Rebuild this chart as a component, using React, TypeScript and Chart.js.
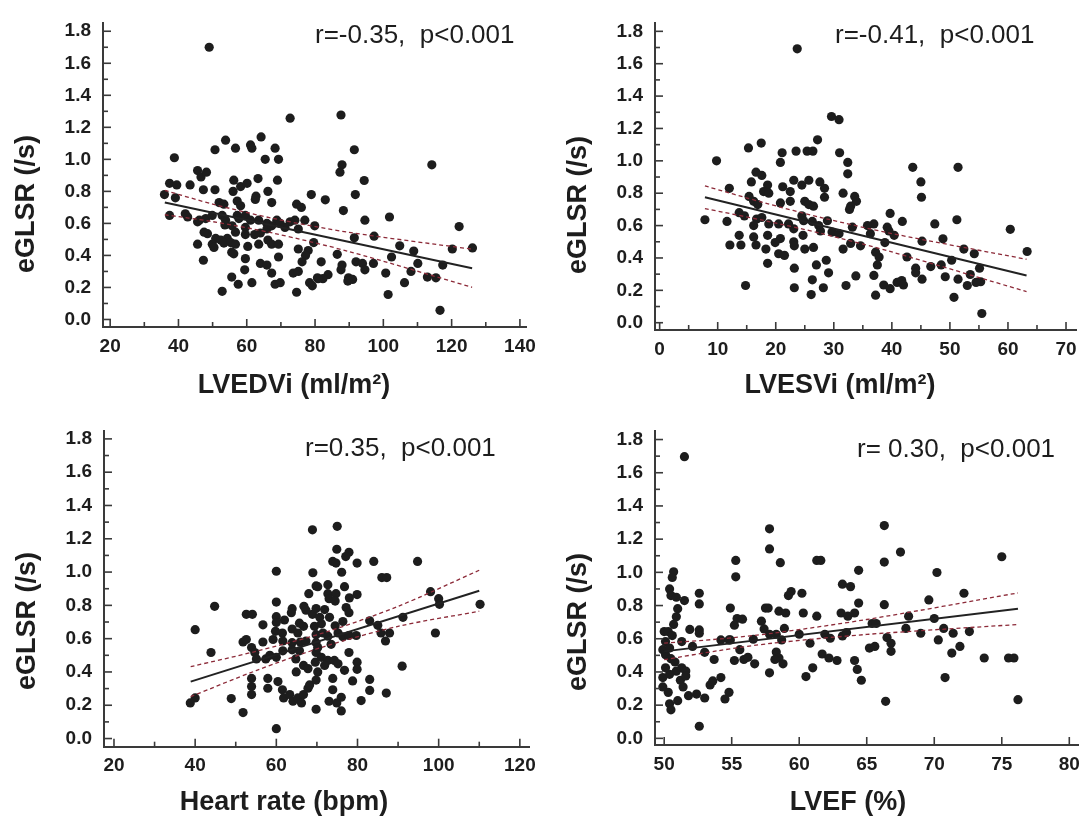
import React, { useEffect, useRef } from "react";
import { Chart, registerables } from "chart.js";

Chart.register(...registerables);

const FONT = '"Liberation Sans", Arial, Helvetica, sans-serif';
const INK = "#1d1d1d";
const AXIS = "#3a3a3a";
const BAND = "#8c2a38";

// ---------------- Panel 1: LVEDVi ----------------
const lvedviPoints: [number, number][] = [
  [49.0, 1.70], [72.7, 1.257], [53.8, 1.12], [64.2, 1.14], [50.7, 1.06], [56.7, 1.07], [61.1, 1.09], [61.5, 1.07],
  [68.3, 1.07], [38.8, 1.01], [65.4, 1.00], [69.3, 1.00], [45.6, 0.93], [46.6, 0.89], [48.2, 0.92], [56.2, 0.87],
  [63.3, 0.88], [69.0, 0.87], [37.4, 0.85], [39.5, 0.84], [43.4, 0.84], [58.2, 0.83], [60.1, 0.85], [47.3, 0.81],
  [50.7, 0.81], [56.0, 0.80], [66.2, 0.80], [35.9, 0.78], [39.1, 0.76], [62.7, 0.77], [62.5, 0.75], [67.3, 0.73],
  [78.9, 0.78], [51.9, 0.73], [53.3, 0.72], [57.2, 0.74], [58.2, 0.71], [74.6, 0.72], [76.0, 0.70], [37.4, 0.65],
  [42.0, 0.66], [42.7, 0.64], [45.6, 0.61], [48.0, 0.63], [49.9, 0.65], [52.8, 0.65], [53.8, 0.62], [57.2, 0.65],
  [57.7, 0.63], [59.6, 0.65], [61.1, 0.62], [63.5, 0.62], [65.9, 0.60], [68.8, 0.62], [69.8, 0.60], [72.7, 0.61],
  [74.1, 0.62], [77.0, 0.62], [53.6, 0.59], [55.7, 0.585], [59.6, 0.575], [48.5, 0.536], [47.5, 0.545], [50.9, 0.506],
  [54.3, 0.506], [56.7, 0.545], [59.6, 0.53], [62.3, 0.53], [64.0, 0.54], [65.9, 0.565], [67.3, 0.585], [71.2, 0.575],
  [75.1, 0.565], [79.9, 0.585], [45.6, 0.47], [49.9, 0.47], [52.4, 0.496], [53.3, 0.477], [55.3, 0.48], [56.7, 0.47],
  [60.3, 0.456], [63.5, 0.47], [66.2, 0.496], [67.3, 0.47], [69.3, 0.47], [50.4, 0.45], [55.6, 0.42], [56.2, 0.41],
  [75.1, 0.44], [78.0, 0.43], [77.2, 0.40], [79.6, 0.48], [47.3, 0.37], [59.6, 0.38], [69.3, 0.39], [76.2, 0.36],
  [64.0, 0.35], [65.9, 0.34], [59.4, 0.31], [67.3, 0.29], [73.6, 0.29], [75.1, 0.30], [55.6, 0.265], [57.5, 0.22],
  [61.5, 0.23], [68.3, 0.22], [69.8, 0.23], [78.4, 0.23], [79.2, 0.21], [80.7, 0.26], [52.8, 0.176], [74.6, 0.17],
  [46.1, 0.62],
  [87.6, 1.277], [91.5, 1.06], [87.9, 0.966], [87.3, 0.92], [94.4, 0.868], [114.2, 0.966], [83.0, 0.747], [91.8, 0.78],
  [88.3, 0.68], [94.6, 0.62], [101.8, 0.64], [122.2, 0.58], [91.5, 0.51], [97.3, 0.52], [104.8, 0.46], [108.9, 0.427],
  [120.2, 0.44], [126.1, 0.447], [86.5, 0.407], [81.8, 0.36], [92.0, 0.36], [93.9, 0.35], [97.1, 0.35], [102.4, 0.39],
  [110.1, 0.35], [117.4, 0.34], [87.9, 0.34], [87.6, 0.31], [94.6, 0.31], [100.7, 0.29], [108.1, 0.30], [112.9, 0.265],
  [115.4, 0.26], [83.8, 0.28], [82.3, 0.255], [80.9, 0.255], [89.8, 0.26], [91.0, 0.25], [89.6, 0.24], [106.2, 0.23],
  [101.4, 0.156], [116.6, 0.057],
];
const lvedviFitX = [36, 126];
const lvedviFitY = [0.73, 0.32];
const lvedviBandX = [36, 50, 68, 90, 126];
const lvedviBandUpper = [0.806, 0.721, 0.63, 0.544, 0.439];
const lvedviBandLower = [0.654, 0.611, 0.538, 0.424, 0.201];

// ---------------- Panel 2: LVESVi ----------------
const lvesviPoints: [number, number][] = [
  [23.7, 1.692], [29.6, 1.274], [30.9, 1.254], [27.2, 1.13], [15.3, 1.08], [17.5, 1.11], [21.1, 1.05], [23.5, 1.06],
  [25.4, 1.06], [26.4, 1.06], [31.0, 1.05], [9.8, 1.0], [20.8, 0.99], [32.4, 0.99], [16.6, 0.93], [17.6, 0.91],
  [32.4, 0.92], [23.1, 0.88], [25.7, 0.88], [27.6, 0.87], [12.0, 0.83], [15.8, 0.87], [18.6, 0.85], [21.2, 0.84],
  [24.5, 0.85], [28.4, 0.83], [17.9, 0.81], [18.8, 0.80], [22.5, 0.81], [31.6, 0.80], [15.4, 0.78], [16.2, 0.75],
  [16.9, 0.73], [20.8, 0.74], [22.5, 0.75], [25.0, 0.75], [25.7, 0.73], [26.5, 0.72], [28.4, 0.775], [33.6, 0.78],
  [33.9, 0.75], [32.9, 0.72], [32.7, 0.70], [7.8, 0.636], [11.6, 0.626], [13.7, 0.68], [14.6, 0.66], [16.7, 0.64],
  [17.6, 0.65], [16.2, 0.60], [18.8, 0.61], [20.5, 0.61], [22.2, 0.61], [23.1, 0.58], [24.5, 0.66], [24.8, 0.63],
  [26.3, 0.626], [27.4, 0.60], [28.9, 0.63], [29.7, 0.56], [30.9, 0.55], [33.2, 0.59], [13.7, 0.54], [16.2, 0.53],
  [18.6, 0.54], [20.8, 0.52], [23.1, 0.50], [24.7, 0.54], [27.7, 0.567], [12.1, 0.48], [14.0, 0.48], [16.6, 0.48],
  [18.3, 0.455], [19.9, 0.495], [23.2, 0.475], [25.0, 0.455], [26.5, 0.465], [31.6, 0.455], [32.9, 0.49], [34.6, 0.475],
  [20.5, 0.426], [21.5, 0.416], [18.6, 0.367], [27.0, 0.357], [28.7, 0.386], [23.2, 0.337], [29.1, 0.308], [33.8, 0.289],
  [26.3, 0.265], [14.8, 0.23], [23.2, 0.216], [28.2, 0.216], [32.1, 0.23], [26.1, 0.174],
  [43.6, 0.96], [51.4, 0.96], [45.0, 0.87], [45.1, 0.775], [39.7, 0.675], [41.8, 0.626], [47.4, 0.61], [51.2, 0.636],
  [60.4, 0.577], [36.9, 0.61], [35.8, 0.60], [36.3, 0.55], [39.2, 0.59], [39.5, 0.567], [40.4, 0.54], [38.8, 0.495],
  [45.2, 0.504], [48.8, 0.518], [52.4, 0.455], [54.2, 0.426], [63.3, 0.44], [37.2, 0.436], [37.8, 0.406], [42.6, 0.406],
  [50.3, 0.386], [55.1, 0.337], [37.5, 0.357], [46.7, 0.347], [48.5, 0.357], [44.1, 0.337], [44.1, 0.308], [36.9, 0.292],
  [45.2, 0.269], [49.2, 0.284], [51.4, 0.269], [53.5, 0.298], [55.3, 0.253], [54.5, 0.249], [53.0, 0.23], [38.6, 0.233],
  [39.7, 0.21], [40.9, 0.249], [41.7, 0.26], [42.0, 0.233], [37.2, 0.17], [50.7, 0.157], [55.5, 0.057],
];
const lvesviFitX = [7.8, 63.2];
const lvesviFitY = [0.775, 0.292];
const lvesviBandX = [7.8, 18, 28, 40, 63.2];
const lvesviBandUpper = [0.845, 0.741, 0.648, 0.551, 0.392];
const lvesviBandLower = [0.705, 0.631, 0.55, 0.437, 0.192];

// ---------------- Panel 3: Heart rate ----------------
const hrPoints: [number, number][] = [
  [68.9, 1.254], [60.0, 1.005], [69.0, 0.996], [69.8, 0.917], [68.0, 0.87], [44.8, 0.794], [60.0, 0.82], [63.9, 0.78],
  [63.7, 0.756], [66.8, 0.794], [68.9, 0.746], [52.6, 0.746], [54.1, 0.746], [40.0, 0.654], [43.9, 0.517], [56.7, 0.683],
  [60.0, 0.732], [60.0, 0.697], [62.0, 0.712], [63.9, 0.658], [65.3, 0.634], [66.7, 0.674], [69.4, 0.674], [59.8, 0.644],
  [61.5, 0.634], [51.8, 0.58], [52.6, 0.595], [56.7, 0.58], [59.2, 0.595], [61.6, 0.586], [63.9, 0.576], [65.9, 0.58],
  [67.3, 0.586], [69.8, 0.624], [53.9, 0.547], [54.7, 0.517], [55.1, 0.478], [57.4, 0.478], [58.4, 0.50], [60.0, 0.488],
  [61.6, 0.527], [63.9, 0.533], [65.7, 0.527], [69.8, 0.517], [64.8, 0.478], [66.7, 0.439], [67.8, 0.42], [64.9, 0.40],
  [69.6, 0.459], [53.9, 0.361], [53.9, 0.312], [53.9, 0.264], [57.9, 0.361], [57.9, 0.302], [60.4, 0.342], [61.5, 0.293],
  [61.8, 0.244], [63.3, 0.264], [64.1, 0.224], [65.3, 0.244], [66.7, 0.264], [67.8, 0.302], [66.2, 0.214], [68.2, 0.322],
  [69.8, 0.176], [48.9, 0.24], [51.8, 0.156], [60.0, 0.059], [40.0, 0.244], [38.8, 0.214], [65.7, 0.693], [67.3, 0.771],
  [69.8, 0.576],
  [75.0, 1.275], [74.9, 1.137], [77.9, 1.119], [77.1, 1.093], [73.9, 1.064], [74.7, 1.054], [79.9, 1.054], [84.0, 1.064],
  [94.8, 1.064], [76.1, 0.999], [86.0, 0.967], [87.2, 0.967], [70.2, 0.912], [72.7, 0.924], [76.8, 0.912], [72.7, 0.87],
  [74.7, 0.87], [79.9, 0.865], [78.0, 0.845], [73.0, 0.84], [74.5, 0.826], [98.0, 0.882], [100.0, 0.84], [100.2, 0.806],
  [110.2, 0.806], [69.8, 0.781], [71.9, 0.775], [77.2, 0.787], [77.9, 0.756], [70.7, 0.728], [73.1, 0.728], [71.1, 0.689],
  [74.5, 0.677], [76.4, 0.703], [83.0, 0.707], [85.0, 0.68], [91.2, 0.728], [71.5, 0.634], [72.7, 0.615], [75.2, 0.634],
  [76.4, 0.611], [77.9, 0.619], [79.7, 0.619], [85.8, 0.634], [87.9, 0.634], [86.9, 0.586], [99.2, 0.634], [73.5, 0.566],
  [70.2, 0.547], [77.9, 0.517], [71.1, 0.488], [72.7, 0.469], [74.3, 0.469], [71.9, 0.439], [75.2, 0.449], [79.9, 0.459],
  [79.9, 0.416], [70.2, 0.40], [76.8, 0.41], [91.0, 0.435], [69.8, 0.351], [73.9, 0.361], [78.8, 0.346], [83.0, 0.355],
  [73.9, 0.293], [83.0, 0.289], [87.1, 0.273], [73.0, 0.224], [76.0, 0.248], [74.9, 0.214], [80.9, 0.228], [76.0, 0.166],
];
const hrFitX = [38.9, 110];
const hrFitY = [0.342, 0.888];
const hrBandX = [38.9, 55, 72, 90, 110];
const hrBandUpper = [0.432, 0.524, 0.638, 0.794, 1.011];
const hrBandLower = [0.252, 0.408, 0.554, 0.674, 0.765];

// ---------------- Panel 4: LVEF ----------------
const lvefPoints: [number, number][] = [
  [51.5, 1.697], [57.8, 1.262], [57.8, 1.141], [55.3, 1.072], [58.6, 1.058], [61.3, 1.072], [61.6, 1.072], [64.4, 1.012],
  [50.7, 1.003], [50.6, 0.969], [55.3, 0.973], [50.4, 0.90], [50.5, 0.86], [50.9, 0.85], [51.5, 0.83], [52.6, 0.874],
  [52.6, 0.81], [54.9, 0.785], [51.0, 0.781], [59.4, 0.884], [59.2, 0.86], [60.2, 0.874], [63.2, 0.929], [63.8, 0.914],
  [64.4, 0.815], [57.5, 0.785], [57.7, 0.785], [58.5, 0.766], [59.0, 0.755], [60.3, 0.755], [61.3, 0.736], [63.1, 0.755],
  [63.6, 0.736], [64.1, 0.755], [50.9, 0.732], [50.7, 0.686], [50.0, 0.643], [50.3, 0.643], [50.6, 0.619], [51.9, 0.656],
  [52.6, 0.653], [52.6, 0.633], [54.9, 0.593], [55.4, 0.722], [55.8, 0.718], [55.2, 0.682], [57.2, 0.706], [57.4, 0.659],
  [57.8, 0.627], [58.3, 0.627], [58.9, 0.662], [60.0, 0.627], [61.9, 0.627], [63.2, 0.617], [63.5, 0.637], [50.1, 0.583],
  [51.3, 0.583], [52.1, 0.554], [54.2, 0.593], [54.8, 0.593], [56.6, 0.597], [58.7, 0.593], [62.3, 0.603], [49.9, 0.534],
  [50.4, 0.544], [50.1, 0.504], [50.5, 0.48], [50.8, 0.46], [51.3, 0.425], [51.6, 0.405], [50.9, 0.405], [53.0, 0.518],
  [53.7, 0.475], [55.6, 0.534], [55.2, 0.469], [55.9, 0.475], [56.2, 0.488], [56.7, 0.449], [58.3, 0.52], [58.5, 0.484],
  [58.2, 0.475], [58.8, 0.449], [60.8, 0.573], [61.7, 0.508], [62.2, 0.484], [62.8, 0.469], [64.1, 0.469], [57.8, 0.395],
  [61.0, 0.425], [60.5, 0.372], [64.3, 0.415], [64.6, 0.35], [49.9, 0.366], [50.4, 0.386], [51.2, 0.35], [51.4, 0.31],
  [49.9, 0.31], [50.3, 0.277], [51.0, 0.227], [51.8, 0.257], [50.4, 0.208], [50.5, 0.172], [52.4, 0.267], [53.0, 0.243],
  [53.4, 0.322], [53.6, 0.346], [54.2, 0.366], [54.8, 0.277], [54.5, 0.237], [52.6, 0.073], [51.6, 0.376], [50.1, 0.425],
  [66.3, 1.282], [67.5, 1.122], [66.3, 1.062], [75.0, 1.094], [70.2, 0.999], [66.3, 0.805], [69.6, 0.834], [72.2, 0.874],
  [65.4, 0.692], [65.7, 0.692], [68.1, 0.736], [70.0, 0.722], [67.9, 0.662], [69.0, 0.633], [70.7, 0.662], [71.4, 0.633],
  [72.6, 0.643], [66.5, 0.607], [66.8, 0.573], [70.3, 0.593], [65.2, 0.544], [65.6, 0.554], [66.8, 0.524], [71.3, 0.514],
  [71.9, 0.554], [73.7, 0.484], [75.5, 0.484], [75.9, 0.484], [70.8, 0.366], [66.4, 0.223], [76.2, 0.233],
];
const lvefFitX = [50, 76.2];
const lvefFitY = [0.524, 0.781];
const lvefBandX = [50, 54, 58, 65, 76.2];
const lvefBandUpper = [0.574, 0.598, 0.633, 0.716, 0.876];
const lvefBandLower = [0.474, 0.528, 0.573, 0.626, 0.686];

const yTitle = "eGLSR (/s)";
const panelNotes = ["r=-0.35,  p<0.001", "r=-0.41,  p<0.001", "r=0.35,  p<0.001", "r= 0.30,  p<0.001"];
const panelXTitles = ["LVEDVi (ml/m\u00B2)", "LVESVi (ml/m\u00B2)", "Heart rate (bpm)", "LVEF (%)"];

type PanelCfg = {
  left: number; top: number; width: number; height: number;
  points: [number, number][];
  fitX: number[]; fitY: number[];
  bandX: number[]; bandUp: number[]; bandLo: number[];
  xMin: number; xMax: number; xStep: number; xMinor: boolean;
  yMin: number; yMax: number;
  yAxisW: number; xAxisH: number; padTop: number; padRight: number;
  note: string; noteX: number; noteY: number;
  xTitle: string; xTitleX: number; xTitleY: number;
  yTitleX: number; yTitleY: number;
};

const PANELS: PanelCfg[] = [
  {
    left: 0, top: 0, width: 544, height: 408,
    points: lvedviPoints, fitX: lvedviFitX, fitY: lvedviFitY,
    bandX: lvedviBandX, bandUp: lvedviBandUpper, bandLo: lvedviBandLower,
    xMin: 17.9, xMax: 142, xStep: 20, xMinor: true, yMin: -0.047, yMax: 1.849,
    yAxisW: 103, xAxisH: 81, padTop: 7, padRight: 14,
    note: panelNotes[0], noteX: 315, noteY: 43,
    xTitle: panelXTitles[0], xTitleX: 294, xTitleY: 393,
    yTitleX: 34, yTitleY: 204,
  },
  {
    left: 544, top: 0, width: 544, height: 408,
    points: lvesviPoints, fitX: lvesviFitX, fitY: lvesviFitY,
    bandX: lvesviBandX, bandUp: lvesviBandUpper, bandLo: lvesviBandLower,
    xMin: -0.8, xMax: 71.84, xStep: 10, xMinor: true, yMin: -0.045, yMax: 1.849,
    yAxisW: 111, xAxisH: 78, padTop: 8.3, padRight: 11.3,
    note: panelNotes[1], noteX: 291, noteY: 43,
    xTitle: panelXTitles[1], xTitleX: 296, xTitleY: 393,
    yTitleX: 42, yTitleY: 205,
  },
  {
    left: 0, top: 408, width: 544, height: 409,
    points: hrPoints, fitX: hrFitX, fitY: hrFitY,
    bandX: hrBandX, bandUp: hrBandUpper, bandLo: hrBandLower,
    xMin: 17.54, xMax: 122.3, xStep: 20, xMinor: true, yMin: -0.049, yMax: 1.845,
    yAxisW: 104, xAxisH: 70.3, padTop: 15.3, padRight: 14,
    note: panelNotes[2], noteX: 305, noteY: 48,
    xTitle: panelXTitles[2], xTitleX: 284, xTitleY: 402,
    yTitleX: 35, yTitleY: 213,
  },
  {
    left: 544, top: 408, width: 544, height: 409,
    points: lvefPoints, fitX: lvefFitX, fitY: lvefFitY,
    bandX: lvefBandX, bandUp: lvefBandUpper, bandLo: lvefBandLower,
    xMin: 49.32, xMax: 80.69, xStep: 5, xMinor: false, yMin: -0.04, yMax: 1.849,
    yAxisW: 111, xAxisH: 72, padTop: 18.7, padRight: 6.3,
    note: panelNotes[3], noteX: 313, noteY: 48.7,
    xTitle: panelXTitles[3], xTitleX: 304, xTitleY: 402,
    yTitleX: 42, yTitleY: 214,
  },
];

const panelDecor = {
  id: "panelDecor",
  afterDraw(chart: any, _args: any, o: any) {
    const { ctx, chartArea: a } = chart;
    const sx = chart.scales.x;
    const sy = chart.scales.y;
    ctx.save();
    ctx.strokeStyle = AXIS;
    ctx.lineWidth = 1.6;
    const minorOf = (maj: number[], step: number, min: number, max: number) => {
      const out: number[] = [];
      maj.forEach((v) => {
        [v - step / 2, v + step / 2].forEach((m) => {
          if (m > min && m < max && !out.some((q) => Math.abs(q - m) < 1e-9) && !maj.some((q) => Math.abs(q - m) < 1e-9)) out.push(m);
        });
      });
      return out;
    };
    const tickX = (v: number, len: number) => {
      const p = sx.getPixelForValue(v);
      ctx.beginPath();
      ctx.moveTo(p, a.bottom);
      ctx.lineTo(p, a.bottom - len);
      ctx.stroke();
    };
    const tickY = (v: number, len: number) => {
      const p = sy.getPixelForValue(v);
      ctx.beginPath();
      ctx.moveTo(a.left, p);
      ctx.lineTo(a.left + len, p);
      ctx.stroke();
    };
    const xMajor: number[] = sx.ticks.map((t: any) => t.value);
    const yMajor: number[] = sy.ticks.map((t: any) => t.value);
    xMajor.forEach((v) => tickX(v, 8));
    if (o.xMinor) minorOf(xMajor, o.xStep, sx.min, sx.max).forEach((v) => tickX(v, 5));
    yMajor.forEach((v) => tickY(v, 8));
    minorOf(yMajor, 0.2, sy.min, sy.max).forEach((v) => tickY(v, 5));

    ctx.fillStyle = INK;
    ctx.textBaseline = "alphabetic";
    ctx.font = `26px ${FONT}`;
    ctx.textAlign = "left";
    ctx.fillText(o.note, o.noteX, o.noteY);
    ctx.font = `bold 27px ${FONT}`;
    ctx.textAlign = "center";
    ctx.fillText(o.xTitle, o.xTitleX, o.xTitleY);
    ctx.translate(o.yTitleX, o.yTitleY);
    ctx.rotate(-Math.PI / 2);
    ctx.fillText(o.yTitle, 0, 0);
    ctx.restore();
  },
};

function buildConfig(c: PanelCfg): any {
  const toXY = (xs: number[], ys: number[]) => xs.map((x, i) => ({ x, y: ys[i] }));
  const tickFont = { family: FONT, size: 19, weight: "bold" as const };
  return {
    type: "scatter",
    data: {
      datasets: [
        {
          type: "line", data: toXY(c.fitX, c.fitY), borderColor: "#222222", borderWidth: 2,
          pointRadius: 0, fill: false, tension: 0,
        },
        {
          type: "line", data: toXY(c.bandX, c.bandUp), borderColor: BAND, borderWidth: 1.3,
          borderDash: [4, 3], pointRadius: 0, fill: false, tension: 0.3,
        },
        {
          type: "line", data: toXY(c.bandX, c.bandLo), borderColor: BAND, borderWidth: 1.3,
          borderDash: [4, 3], pointRadius: 0, fill: false, tension: 0.3,
        },
        {
          type: "scatter", data: c.points.map(([x, y]) => ({ x, y })),
          pointRadius: 4.6, pointBackgroundColor: INK, backgroundColor: INK,
          pointBorderWidth: 0, borderWidth: 0, pointStyle: "circle",
        },
      ],
    },
    options: {
      responsive: false,
      maintainAspectRatio: false,
      animation: false,
      devicePixelRatio: 1,
      events: [],
      layout: { padding: { left: 0, top: c.padTop, right: c.padRight, bottom: 0 } },
      plugins: {
        legend: { display: false },
        tooltip: { enabled: false },
        panelDecor: {
          xMinor: c.xMinor, xStep: c.xStep,
          note: c.note, noteX: c.noteX, noteY: c.noteY,
          xTitle: c.xTitle, xTitleX: c.xTitleX, xTitleY: c.xTitleY,
          yTitle, yTitleX: c.yTitleX, yTitleY: c.yTitleY,
        },
      },
      scales: {
        x: {
          type: "linear", position: "bottom", min: c.xMin, max: c.xMax,
          afterFit: (s: any) => { s.height = c.xAxisH; },
          grid: { display: false, drawTicks: false },
          border: { display: true, color: AXIS, width: 2 },
          ticks: {
            stepSize: c.xStep, includeBounds: false, padding: 8, color: INK, font: tickFont,
            maxRotation: 0, minRotation: 0, autoSkip: false,
            callback: (v: any) => String(Math.round(Number(v) * 100) / 100),
          },
        },
        y: {
          type: "linear", position: "left", min: c.yMin, max: c.yMax,
          afterFit: (s: any) => { s.width = c.yAxisW; },
          grid: { display: false, drawTicks: false },
          border: { display: true, color: AXIS, width: 2 },
          ticks: {
            stepSize: 0.2, includeBounds: false, padding: 12, color: INK, font: tickFont,
            autoSkip: false,
            callback: (v: any) => Number(v).toFixed(1),
          },
        },
      },
    },
    plugins: [panelDecor],
  };
}

function Panel({ cfg }: { cfg: PanelCfg }) {
  const ref = useRef<HTMLCanvasElement>(null);
  useEffect(() => {
    if (!ref.current) return;
    const chart = new Chart(ref.current, buildConfig(cfg));
    return () => chart.destroy();
  }, [cfg]);
  return (
    <div style={{ position: "absolute", left: cfg.left, top: cfg.top, width: cfg.width, height: cfg.height }}>
      <canvas
        ref={ref}
        width={cfg.width}
        height={cfg.height}
        style={{ display: "block", width: cfg.width, height: cfg.height }}
      />
    </div>
  );
}

export default function App() {
  return (
    <div
      style={{
        position: "absolute", left: 0, top: 0, width: 1088, height: 817,
        background: "#ffffff", overflow: "hidden",
      }}
    >
      {PANELS.map((p, i) => (
        <Panel key={i} cfg={p} />
      ))}
    </div>
  );
}
